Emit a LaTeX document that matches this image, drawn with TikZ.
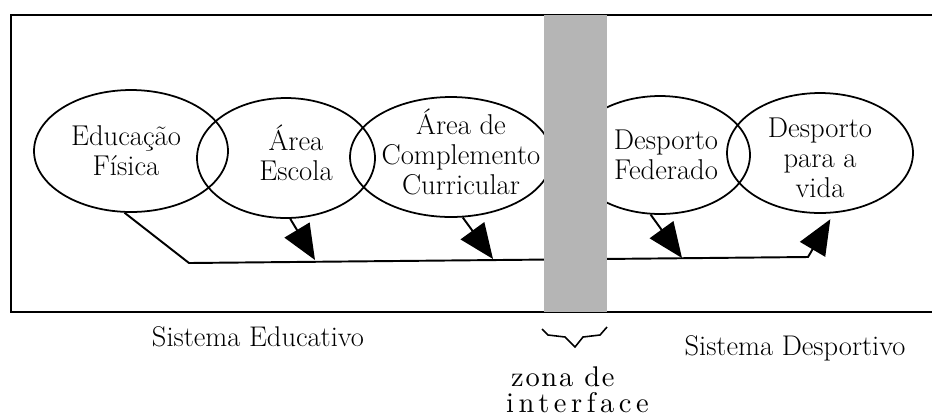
\documentclass[tikz,border=0pt]{standalone}
\usepackage{fontspec}
\usetikzlibrary{shapes.geometric,arrows.meta}

\newfontfamily\widefont[LetterSpace=16]{lmroman10-regular.otf}
\newfontfamily\halfwidefont[LetterSpace=6]{lmroman10-regular.otf}

\tikzset{
    bubble/.style={ellipse, draw, line width=1pt, inner sep=0pt},
    bubbletext/.style={align=center, font=\fontsize{16.3}{17.2}\selectfont},
    flow/.style={line width=1.1pt, -{Triangle[length=0.7cm,width=0.58cm]}},
    caption/.style={font=\fontsize{16.2}{18}\selectfont}
}

\begin{document}
\begin{tikzpicture}[x=0.02cm, y=-0.02cm]
        \useasboundingbox (0, 0) rectangle (932, 417);
        % frame, open on the right
        \draw[line width=1pt] (932, 15) -- (11, 15) -- (11, 312) -- (932, 312);

        % the five areas
        \node[bubble, minimum width=3.88cm, minimum height=2.44cm,
              label={[bubbletext, xshift=-0.1cm]center:{Educação\\Física}}] (EF) at (131, 151) {};
        \node[bubble, minimum width=3.56cm, minimum height=2.4cm,
              label={[bubbletext, xshift=0.2cm, yshift=0.1cm]center:{Área\\Escola}}] (AE) at (286, 158) {};
        \node[bubble, minimum width=4.04cm, minimum height=2.4cm,
              label={[bubbletext, xshift=0.2cm, yshift=0.1cm]center:{Área de\\Complemento\\Curricular}}] (ACC) at (451, 157) {};
        \node[bubble, minimum width=3.6cm, minimum height=2.36cm,
              label={[bubbletext, xshift=0.12cm]center:{Desporto\\Federado}}] (DF) at (660, 155) {};
        \node[bubble, minimum width=3.72cm, minimum height=2.4cm,
              label={[bubbletext, yshift=-0.1cm]center:{Desporto\\para a\\vida}}] (DV) at (820, 153) {};

        % the common path
        \coordinate (bend) at (189, 263);
        \coordinate (lineend) at (808, 257);
        \coordinate (tipAE) at (315, 260);
        \coordinate (tipACC) at (493, 259);
        \coordinate (tipDF) at (682, 258);
        \draw[flow, shorten >=0.14cm] (EF.-96) -- (bend) -- (lineend) -- (DV.-77);
        \foreach \from\to in {AE.-86/tipAE, ACC.-79/tipACC, DF.-99/tipDF} {
            \draw[flow] (\from) -- (\to);
        }

        % interface strip
        \fill[gray!58] (544, 15) rectangle (607, 312);
        \draw[line width=0.9pt] (542, 329) -- (548, 335) -- (565, 337) -- (575, 347)
            -- (583, 337) -- (600, 335) -- (607, 327);

        \node[caption] (educ) at (258, 337) {Sistema Educativo};
        \node[caption] (desp) at (795, 348) {Sistema Desportivo};
        \node[caption, anchor=west] (zona) at (505, 377) {\halfwidefont zona de};
        \node[caption, anchor=west] (inter) at (500, 403) {\widefont interface};
\end{tikzpicture}
\end{document}
